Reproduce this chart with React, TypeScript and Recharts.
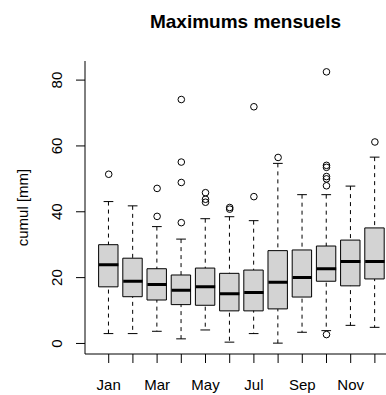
import { ComposedChart, Bar, Scatter, XAxis, YAxis } from 'recharts';

const MONTHS = ['Jan', 'Feb', 'Mar', 'Apr', 'May', 'Jun', 'Jul', 'Aug', 'Sep', 'Oct', 'Nov', 'Dec'];
const SHOWN_LABELS = ['Jan', 'Mar', 'May', 'Jul', 'Sep', 'Nov'];

// five-number summaries (mm)
const LOWER = [3.0, 3.0, 3.7, 1.4, 4.1, 0.4, 3.0, 0.1, 3.4, 3.9, 5.5, 4.9];
const Q1 = [17.2, 14.2, 13.2, 11.8, 11.6, 9.9, 9.9, 10.5, 14.1, 18.9, 17.5, 19.6];
const MEDIAN = [23.9, 18.9, 17.9, 16.2, 17.2, 15.1, 15.5, 18.6, 20.0, 22.7, 24.9, 24.9];
const Q3 = [30.0, 25.9, 22.7, 20.8, 22.9, 21.3, 22.3, 28.2, 28.4, 29.6, 31.4, 35.1];
const UPPER = [43.1, 41.8, 35.5, 31.7, 37.9, 38.5, 37.3, 54.7, 45.2, 45.2, 47.8, 56.6];

const OUTLIER_MONTH = [1, 3, 3, 4, 4, 4, 4, 5, 5, 5, 6, 6, 7, 7, 8, 10, 10, 10, 10, 10, 10, 10, 12];
const OUTLIER_VALUE = [51.4, 47.1, 38.6, 74.1, 55.1, 48.9, 36.7, 45.8, 43.8, 42.9, 41.3, 40.8, 71.9, 44.6, 56.5, 82.5, 54.1, 53.5, 50.7, 50.0, 47.9, 2.7, 61.2];

const Y_TICKS = [0, 20, 40, 60, 80];

const X_DOMAIN = [0.02, 12.98];
const Y_DOMAIN = [-3.2, 85.8];
const BOX_W = 19.4;
const FONT = '"Liberation Sans", Arial, sans-serif';

const boxes = MONTHS.map((m, i) => ({
  pos: i + 1,
  name: m,
  whisker: [LOWER[i], UPPER[i]],
  box: [Q1[i], Q3[i]],
}));
const medians = MEDIAN.map((v, i) => ({ x: i + 1, y: v }));
const outliers = OUTLIER_VALUE.map((v, i) => ({ x: OUTLIER_MONTH[i], y: v }));

const Whisker = (props: any) => {
  const { x, y, width, height } = props;
  const cx = x + width / 2;
  return (
    <g stroke="#000" strokeWidth={1}>
      <line x1={cx} x2={cx} y1={y} y2={y + height} strokeDasharray="4 4" />
      <line x1={x} x2={x + width} y1={y} y2={y} />
      <line x1={x} x2={x + width} y1={y + height} y2={y + height} />
    </g>
  );
};

const MedianLine = (props: any) => (
  <line x1={props.cx - BOX_W / 2} x2={props.cx + BOX_W / 2} y1={props.cy} y2={props.cy} stroke="#000" strokeWidth={3} />
);

const Outlier = (props: any) => (
  <circle cx={props.cx} cy={props.cy} r={3.3} fill="none" stroke="#000" strokeWidth={1} />
);

const XTick = (props: any) => {
  const { x, y, payload } = props;
  const name = MONTHS[payload.value - 1];
  if (!SHOWN_LABELS.includes(name)) return null;
  return (
    <text x={x} y={y} dy={25} textAnchor="middle" fontSize={15} fontFamily={FONT} fill="#000">
      {name}
    </text>
  );
};

const YTick = (props: any) => {
  const { x, y, payload } = props;
  return (
    <text transform={`translate(${x - 12},${y}) rotate(-90)`} textAnchor="middle" fontSize={15} fontFamily={FONT} fill="#000">
      {payload.value}
    </text>
  );
};

const YTitle = (props: any) => {
  const vb = props.viewBox;
  return (
    <text transform={`translate(${vb.x + 28},${vb.y + vb.height / 2}) rotate(-90)`} textAnchor="middle" fontSize={15} fontFamily={FONT} fill="#000">
      cumul [mm]
    </text>
  );
};

export default function App() {
  return (
    <div style={{ position: 'absolute', left: 0, top: 0, width: 386, height: 395, overflow: 'hidden', background: '#fff' }}>
      <svg width={386} height={40} style={{ position: 'absolute', left: 0, top: 0 }}>
        <text x={245.5} y={28.3} textAnchor="middle" fontSize={19} fontWeight="bold" fontFamily={FONT} fill="#000">
          Maximums mensuels
        </text>
      </svg>
      <div style={{ position: 'absolute', left: 0, top: 0 }}>
        <ComposedChart width={420} height={395} data={boxes} margin={{ top: 61, right: 21.4, bottom: 0, left: 0 }}>
          <XAxis
            xAxisId="main"
            dataKey="pos"
            type="number"
            domain={X_DOMAIN}
            allowDataOverflow
            ticks={[1, 2, 3, 4, 5, 6, 7, 8, 9, 10, 11, 12]}
            interval={0}
            height={41}
            tickSize={9}
            tick={XTick}
            axisLine={{ stroke: '#000' }}
            tickLine={{ stroke: '#000' }}
          />
          <XAxis xAxisId="w" dataKey="pos" type="number" domain={X_DOMAIN} allowDataOverflow hide />
          <XAxis xAxisId="sx" dataKey="x" type="number" domain={X_DOMAIN} allowDataOverflow hide />
          <XAxis
            xAxisId="top"
            orientation="top"
            type="number"
            domain={X_DOMAIN}
            allowDataOverflow
            height={0}
            tick={false}
            tickLine={false}
            axisLine={{ stroke: '#000' }}
          />
          <YAxis
            type="number"
            domain={Y_DOMAIN}
            allowDataOverflow
            ticks={Y_TICKS}
            interval={0}
            width={85}
            tickSize={9}
            tick={YTick}
            axisLine={{ stroke: '#000' }}
            tickLine={{ stroke: '#000' }}
            label={{ content: YTitle }}
          />
          <YAxis yAxisId="sy" dataKey="y" type="number" domain={Y_DOMAIN} allowDataOverflow hide />
          <Bar xAxisId="w" dataKey="whisker" barSize={BOX_W / 2} shape={Whisker} isAnimationActive={false} />
          <Bar xAxisId="main" dataKey="box" barSize={BOX_W} fill="#d3d3d3" stroke="#000" strokeWidth={1} isAnimationActive={false} />
          <Scatter xAxisId="sx" yAxisId="sy" data={medians} shape={MedianLine} isAnimationActive={false} />
          <Scatter xAxisId="sx" yAxisId="sy" data={outliers} shape={Outlier} isAnimationActive={false} />
        </ComposedChart>
      </div>
    </div>
  );
}
